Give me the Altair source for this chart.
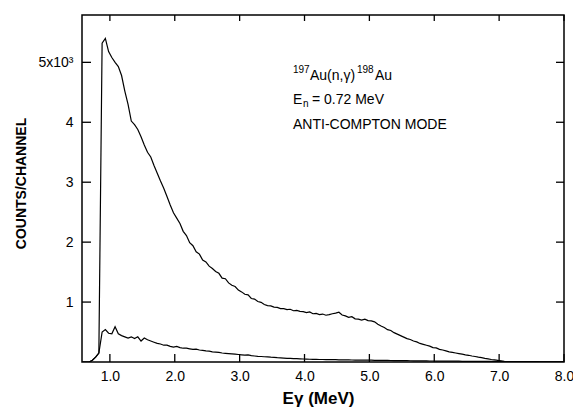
import altair as alt
import pandas as pd

# ---- data -----------------------------------------------------------------
E_START = 0.58   # MeV, first channel group
E_STEP = 0.05    # MeV per group
E_END = 8.0

upper_counts = [
    0, 0, 0, 30, 80, 150,
    5320, 5400, 5180, 5080, 5000, 4930, 4780, 4520, 4300, 4020,
    3960, 3880, 3760, 3620, 3500, 3420, 3280, 3150, 3020, 2900,
    2760, 2620, 2490, 2400, 2310, 2180, 2110, 1990, 1940, 1840,
    1800, 1700, 1670, 1600, 1560, 1510, 1480, 1400, 1390, 1320,
    1280, 1260, 1200, 1170, 1130, 1120, 1060, 1050, 1010, 995,
    960, 940, 935, 915, 910, 890, 890, 875, 880, 855,
    860, 845, 840, 825, 835, 805, 810, 790, 800, 780,
    790, 805, 815, 830, 785, 770, 745, 755, 720, 715,
    700, 715, 690, 685, 670, 630, 600, 575, 540, 525,
    490, 465, 440, 415, 390, 375, 350, 335, 310, 295,
    280, 265, 240, 235, 210, 200, 185, 170, 160, 150,
    140, 130, 120, 112, 100, 92, 80, 72, 60, 52,
    42, 35, 28, 20, 12, 8,
    6, 5, 5, 5, 4, 4, 4, 4, 3, 3, 3, 3, 3, 2, 2, 2, 2,
]

lower_counts = [
    0, 0, 0, 30, 80, 150,
    500, 540, 480, 470, 590, 470, 440, 420, 400, 420,
    390, 420, 350, 400, 370, 350, 330, 310, 300, 280,
    280, 260, 250, 260, 240, 230, 230, 220, 210, 215,
    200, 195, 185, 180, 170, 165, 160, 150, 145, 140,
    135, 130, 125, 120, 115, 118, 105, 100, 95, 92,
    88, 85, 80, 78, 72, 70, 66, 62, 60, 56,
    55, 52, 50, 48, 46, 45, 44, 42, 42, 40,
    40, 38, 40, 36, 35, 36, 34, 33, 32, 32,
    30, 31, 30, 30, 28, 28, 27, 26, 26, 25,
    24, 24, 23, 22, 22, 21, 20, 20, 19, 18,
    18, 17, 17, 16, 16, 15, 15, 14, 14, 13,
    13, 12, 12, 12, 11, 11, 10, 10, 10, 9,
    9, 9, 8, 8, 8,
    7, 7, 7, 6, 6, 6, 5, 5, 5, 5, 4, 4, 4, 3, 3, 3, 2, 2,
]

x_tick_values = [1, 2, 3, 4, 5, 6, 7, 8]
y_tick_values = [1000, 2000, 3000, 4000, 5000]

X_DOMAIN = [0.57, 8.0]
Y_DOMAIN = [0, 5790]

# ---- build tables ---------------------------------------------------------
def series_rows(name, counts):
    rows = [{"E": round(E_START + i * E_STEP, 4), "counts": c, "series": name}
            for i, c in enumerate(counts)]
    rows.append({"E": E_END, "counts": counts[-1], "series": name})
    return rows

spec_df = pd.DataFrame(series_rows("total", upper_counts) +
                       series_rows("anti-compton", lower_counts))
xt_df = pd.DataFrame({"v": x_tick_values})
yt_df = pd.DataFrame({"v": y_tick_values})

W, H = 482, 347
FONT = "Liberation Sans"

xscale = alt.Scale(domain=X_DOMAIN, nice=False, zero=False)
yscale = alt.Scale(domain=Y_DOMAIN, nice=False)

x_axis = alt.Axis(
    values=x_tick_values, labelExpr="format(datum.value, '.1f')",
    labelFontSize=14, labelPadding=7, labelFlush=False,
    ticks=False, tickSize=0, domain=False, grid=False,
    title="Eγ  (MeV)", titleFontSize=17, titleFontWeight="bold",
    titleX=236, titleY=36, titleAlign="center", titleBaseline="middle",
)
y_axis = alt.Axis(
    values=y_tick_values,
    labelExpr="datum.value == 5000 ? '5x10³' : format(datum.value / 1000, 'd')",
    labelFontSize=14, labelPadding=9,
    ticks=False, tickSize=0, domain=False, grid=False,
    title="COUNTS/CHANNEL", titleFontSize=14, titleFontWeight="bold",
    titleX=-61, titleY=168, titleAlign="center", titleBaseline="middle",
    titleAngle=-90,
)

lines = alt.Chart(spec_df).mark_line(
    interpolate="linear", color="black", strokeWidth=1.2, clip=True
).encode(
    x=alt.X("E:Q", scale=xscale, axis=x_axis),
    y=alt.Y("counts:Q", scale=yscale, axis=y_axis),
    detail="series:N",
)

tick_style = dict(color="black", strokeWidth=1.3)
bottom_ticks = alt.Chart(xt_df).mark_rule(**tick_style).encode(
    x=alt.X("v:Q", scale=xscale), y=alt.value(H), y2=alt.value(H - 8))
top_ticks = alt.Chart(xt_df).mark_rule(**tick_style).encode(
    x=alt.X("v:Q", scale=xscale), y=alt.value(0), y2=alt.value(6))
left_ticks = alt.Chart(yt_df).mark_rule(**tick_style).encode(
    y=alt.Y("v:Q", scale=yscale), x=alt.value(0), x2=alt.value(9))
right_ticks = alt.Chart(yt_df).mark_rule(**tick_style).encode(
    y=alt.Y("v:Q", scale=yscale), x=alt.value(W), x2=alt.value(W - 8))

# ---- annotation (plot-area pixel coordinates) ----------------------------
def txt(s, x, y, size=14):
    return alt.Chart(xt_df.head(1)).mark_text(
        align="left", baseline="alphabetic", font=FONT, fontSize=size,
        color="black"
    ).encode(x=alt.value(x), y=alt.value(y), text=alt.value(s))

ann = [
    txt("197", 211, 58, 10),
    txt("Au(n,γ)", 228, 65, 14),
    txt("198", 275, 58, 10),
    txt("Au", 293, 65, 14),
    txt("E", 211, 89, 14),
    txt("n", 221, 92, 10),
    txt("= 0.72 MeV", 230, 89, 14),
    txt("ANTI-COMPTON MODE", 211, 114, 14),
]

chart = alt.layer(
    lines, bottom_ticks, top_ticks, left_ticks, right_ticks, *ann
).properties(
    width=W, height=H,
    autosize=alt.AutoSizeParams(type="none"),
    padding={"left": 82, "top": 15, "right": 9, "bottom": 46},
    background="white",
).configure_view(
    stroke="black", strokeWidth=1.5
).configure_axis(
    labelFont=FONT, titleFont=FONT, labelColor="black", titleColor="black"
)

chart.save("out.html", embed_options={"renderer": "svg", "actions": False})
